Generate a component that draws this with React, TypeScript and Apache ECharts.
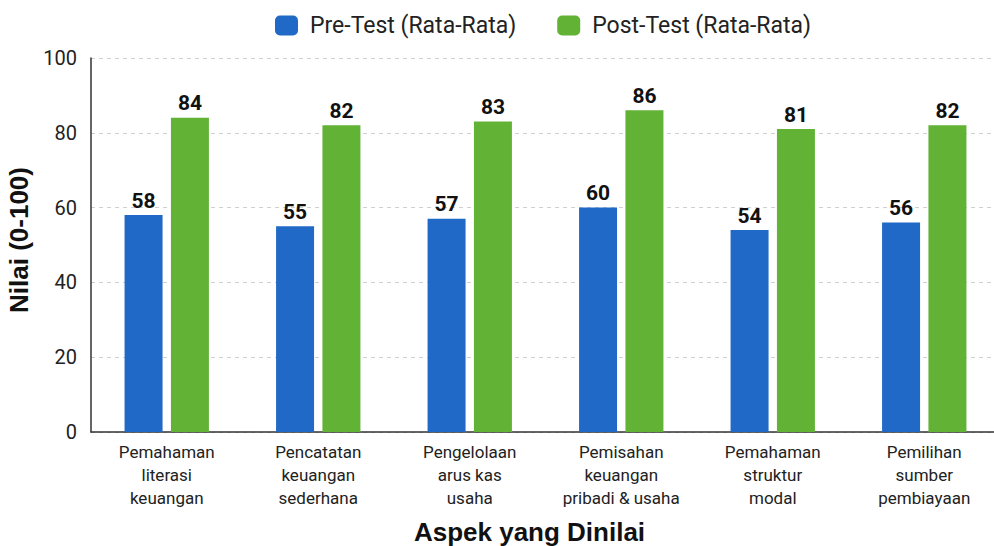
import React, { useEffect, useRef } from "react";
import * as echarts from "echarts";

const categories = [
  "Pemahaman\nliterasi\nkeuangan",
  "Pencatatan\nkeuangan\nsederhana",
  "Pengelolaan\narus kas\nusaha",
  "Pemisahan\nkeuangan\npribadi & usaha",
  "Pemahaman\nstruktur\nmodal",
  "Pemilihan\nsumber\npembiayaan",
];
const preTest = [58, 55, 57, 60, 54, 56];
const postTest = [84, 82, 83, 86, 81, 82];
const seriesNames = ["Pre-Test (Rata-Rata)", "Post-Test (Rata-Rata)"];
const xAxisTitle = "Aspek yang Dinilai";
const yAxisTitle = "Nilai (0-100)";

const FONT = "Roboto, 'Open Sans', sans-serif";
const TITLE_FONT = "'Liberation Sans', Arial, sans-serif";

export default function App() {
  const ref = useRef<HTMLDivElement>(null);
  useEffect(() => {
    if (!ref.current) return;
    const chart = echarts.init(ref.current, null, { renderer: "svg" });
    const labelStyle = {
      show: true,
      position: "top" as const,
      distance: 4,
      color: "#111",
      fontWeight: "bold" as const,
      fontSize: 21,
      fontFamily: FONT,
    };
    chart.setOption({
      animation: false,
      backgroundColor: "#ffffff",
      textStyle: { fontFamily: FONT },
      legend: {
        top: 9,
        left: 270,
        itemWidth: 23,
        itemHeight: 20,
        itemGap: 41,
        icon: "roundRect",
        textStyle: { fontSize: 23, color: "#222", fontFamily: FONT, padding: [0, 0, 0, 7] },
        data: seriesNames,
      },
      grid: {
        left: 91,
        top: 58,
        width: 909,
        height: 374,
        containLabel: false,
        outerBoundsMode: "none",
      },
      xAxis: {
        type: "category",
        data: categories,
        name: xAxisTitle,
        nameLocation: "middle",
        nameGap: 87,
        nameTextStyle: {
          fontSize: 26,
          fontWeight: "bold",
          color: "#111",
          fontFamily: TITLE_FONT,
          padding: [0, 32, 0, 0],
        },
        axisLine: { show: true, lineStyle: { color: "#333", width: 1.5 } },
        axisTick: { show: false },
        axisLabel: {
          fontSize: 17,
          lineHeight: 23,
          color: "#222",
          margin: 8,
          interval: 0,
          fontFamily: FONT,
        },
      },
      yAxis: {
        type: "value",
        min: 0,
        max: 100,
        interval: 20,
        name: yAxisTitle,
        nameLocation: "middle",
        nameGap: 56,
        nameTextStyle: {
          fontSize: 26,
          fontWeight: "bold",
          color: "#111",
          fontFamily: TITLE_FONT,
          padding: [0, 0, 0, 10],
        },
        axisLine: { show: true, lineStyle: { color: "#333", width: 1.5 } },
        axisTick: { show: false },
        axisLabel: { fontSize: 20, color: "#222", margin: 14, fontFamily: FONT },
        splitLine: { show: true, lineStyle: { color: "#cfcfcf", type: [4, 4], width: 1 } },
      },
      series: [
        {
          name: seriesNames[0],
          type: "bar",
          data: preTest,
          barWidth: 38,
          barGap: "22%",
          itemStyle: { color: "#2169C6" },
          label: labelStyle,
        },
        {
          name: seriesNames[1],
          type: "bar",
          data: postTest,
          barWidth: 38,
          barGap: "22%",
          itemStyle: { color: "#62B236" },
          label: labelStyle,
        },
      ],
    });
    return () => chart.dispose();
  }, []);
  return (
    <div
      ref={ref}
      style={{ position: "fixed", left: 0, top: 0, width: 994, height: 546, background: "#fff" }}
    />
  );
}
